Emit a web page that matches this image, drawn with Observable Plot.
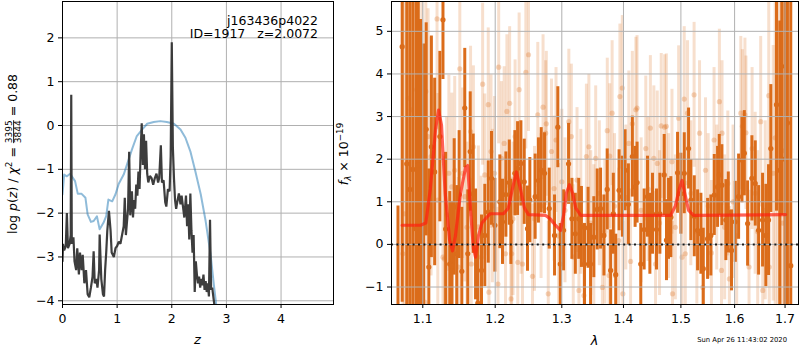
<!DOCTYPE html>
<html><head><meta charset="utf-8">
<script src="https://cdn.jsdelivr.net/npm/d3@7"></script>
<script src="https://cdn.jsdelivr.net/npm/@observablehq/plot@0.6"></script>
<style>
body{margin:0;background:#fff;font-family:"DejaVu Sans",sans-serif}
#wrap{position:relative;width:800px;height:350px;overflow:hidden}
#wrap svg{position:absolute;top:0}
</style></head><body><div id="wrap"></div>
<script>
// ---------- Left panel data: log p(z) ----------
const zTicks = [0, 1, 2, 3, 4];
const pzTicks = [-4, -3, -2, -1, 0, 1, 2];
const bluePz = [[0,-1.57],[0.03,-1.12],[0.08,-1.16],[0.14,-1.10],[0.23,-1.27],[0.28,-1.56],[0.35,-1.56],[0.42,-1.65],[0.46,-2.03],[0.52,-2.20],[0.57,-2.18],[0.63,-2.07],[0.68,-2.37],[0.75,-2.22],[0.80,-2.07],[0.84,-1.69],[0.91,-1.73],[0.97,-1.57],[1.03,-1.33],[1.12,-1.12],[1.21,-0.78],[1.27,-0.55],[1.36,-0.24],[1.46,-0.09],[1.55,0.04],[1.67,0.08],[1.79,0.10],[1.91,0.08],[2.04,0.04],[2.16,-0.09],[2.25,-0.28],[2.34,-0.59],[2.43,-1.04],[2.53,-1.57],[2.62,-2.18],[2.71,-2.94],[2.77,-3.63],[2.82,-4.16]];
const darkPz = [[0,-3.1],[0.01,-2.7],[0.03,-2.85],[0.06,-2.75],[0.08,-2.0],[0.10,-2.8],[0.13,-2.7],[0.15,-2.5],[0.16,0.7],[0.17,-2.7],[0.20,-2.55],[0.22,-3.1],[0.25,-3.3],[0.27,-2.8],[0.30,-3.4],[0.32,-2.9],[0.35,-3.3],[0.37,-2.95],[0.40,-3.6],[0.43,-3.3],[0.46,-3.85],[0.49,-3.92],[0.52,-3.7],[0.55,-3.45],[0.57,-2.87],[0.59,-3.6],[0.62,-3.5],[0.64,-3.7],[0.67,-3.3],[0.68,-2.49],[0.71,-3.5],[0.74,-3.85],[0.76,-3.9],[0.78,-3.3],[0.80,-2.9],[0.82,-2.4],[0.85,-1.95],[0.88,-2.4],[0.90,-2.9],[0.94,-3.0],[0.97,-2.8],[1.00,-2.75],[1.03,-2.65],[1.06,-2.7],[1.09,-2.5],[1.12,-2.3],[1.14,-1.65],[1.16,-2.5],[1.18,-2.2],[1.20,-1.9],[1.22,-0.6],[1.24,-2.05],[1.27,-1.5],[1.29,-2.1],[1.31,-1.7],[1.33,-1.9],[1.35,-1.35],[1.37,-1.6],[1.39,-1.05],[1.41,-1.45],[1.43,-0.6],[1.45,0.05],[1.47,-0.9],[1.49,-0.2],[1.51,-1.0],[1.53,-0.35],[1.55,-1.1],[1.57,-1.3],[1.60,-1.15],[1.63,-1.2],[1.66,-1.35],[1.69,-1.2],[1.72,-1.1],[1.75,-1.3],[1.77,-1.2],[1.80,-0.45],[1.82,-1.3],[1.85,-1.25],[1.88,-1.75],[1.90,-1.85],[1.93,-1.45],[1.96,-1.5],[1.98,-0.7],[2.00,1.9],[2.02,-0.5],[2.04,-1.2],[2.06,-1.7],[2.08,-1.9],[2.10,-1.75],[2.13,-1.55],[2.16,-1.8],[2.18,-1.6],[2.20,-1.8],[2.23,-2.1],[2.26,-1.6],[2.28,-2.3],[2.30,-1.8],[2.32,-2.6],[2.34,-1.55],[2.36,-2.4],[2.38,-2.9],[2.40,-2.5],[2.42,-3.8],[2.44,-3.1],[2.46,-3.4],[2.48,-3.6],[2.50,-3.45],[2.52,-3.7],[2.54,-3.5],[2.56,-3.65],[2.58,-3.4],[2.60,-3.75],[2.62,-3.55],[2.64,-3.8],[2.66,-3.6],[2.68,-3.9],[2.70,-2.15],[2.72,-3.75],[2.74,-3.7],[2.76,-3.9],[2.78,-4.1],[2.80,-4.3]];

// ---------- Right panel data: spectrum [lambda, flux, err] ----------
const lamTicks = [1.1, 1.2, 1.3, 1.4, 1.5, 1.6, 1.7];
const fluxTicks = [-1, 0, 1, 2, 3, 4, 5];
const specLight = [[1.074,-0.22,6],[1.076,0.72,6],[1.081,3.43,5],[1.085,3.16,5],[1.092,3.63,4.5],[1.0947,4.27,4],[1.099,2.92,3.5],[1.103,-1.36,3.2],[1.104,3.59,3],[1.107,2.53,3],[1.111,2.06,2.8],[1.119,5.29,2.6],[1.120,1.04,2.5],[1.127,-0.30,2.4],[1.129,-0.34,2.4],[1.132,0.7,2.3],[1.135,1.67,2.3],[1.139,1.35,2.2],[1.143,1.74,2.2],[1.148,-0.53,2.1],[1.150,4.12,2.1],[1.154,1.67,2.0],[1.157,1.12,2.0],[1.160,0.4,2.0],[1.165,2.65,2.0],[1.166,-0.46,2.0],[1.169,2.29,1.9],[1.176,0.41,1.9],[1.180,-0.3,1.9],[1.182,3.76,1.9],[1.185,1.63,1.9],[1.190,3.28,1.8],[1.191,-1.12,1.8],[1.194,2.18,1.8],[1.196,0.9,1.8],[1.199,1.67,1.8],[1.204,-0.93,1.8],[1.205,4.16,1.8],[1.209,2.02,1.8],[1.213,2.37,1.8],[1.215,-0.22,1.8],[1.217,3.12,1.8],[1.221,3.31,1.8],[1.223,-1.28,1.8],[1.224,-0.22,1.8],[1.226,0.6,1.8],[1.229,2.53,1.8],[1.233,-0.42,1.8],[1.235,3.63,1.8],[1.238,1.1,1.8],[1.240,-0.46,1.8],[1.245,4.04,1.8],[1.249,4.45,1.8],[1.255,-0.75,1.7],[1.258,0.6,1.7],[1.263,3.04,1.7],[1.268,0.9,1.7],[1.271,3.22,1.7],[1.275,2.61,1.7],[1.276,2.83,1.7],[1.279,-1.16,1.7],[1.284,2.18,1.7],[1.288,1.31,1.7],[1.291,2.45,1.7],[1.295,0.2,1.7],[1.300,1.47,1.7],[1.305,0.8,1.7],[1.311,2.88,1.7],[1.315,2.53,1.7],[1.318,-0.3,1.7],[1.324,1.51,1.7],[1.327,-1.08,1.7],[1.330,1.0,1.7],[1.335,-1.20,1.7],[1.339,2.06,1.7],[1.343,2.29,1.7],[1.346,0.5,1.7],[1.351,0.17,1.7],[1.354,2.02,1.7],[1.360,1.2,1.7],[1.365,-1.01,1.7],[1.369,0.3,1.7],[1.373,2.67,1.7],[1.376,-0.73,1.7],[1.377,2.07,1.7],[1.381,3.08,1.7],[1.385,0.9,1.7],[1.392,0.09,1.7],[1.394,3.47,1.7],[1.398,3.67,1.7],[1.399,-1.16,1.7],[1.404,1.1,1.7],[1.409,2.37,1.7],[1.412,-0.4,1.7],[1.415,2.83,1.7],[1.421,3.16,1.7],[1.423,3.20,1.7],[1.430,0.8,1.7],[1.438,2.25,1.7],[1.442,1.3,1.7],[1.446,2.73,1.7],[1.452,2.02,1.7],[1.455,-0.46,1.7],[1.458,1.90,1.7],[1.462,0.5,1.7],[1.465,2.78,1.7],[1.471,2.75,1.7],[1.474,2.77,1.7],[1.478,0.9,1.7],[1.484,1.94,1.7],[1.485,-1.16,1.7],[1.490,0.4,1.7],[1.496,2.96,1.7],[1.502,-0.30,1.7],[1.506,3.41,1.7],[1.508,-0.22,1.7],[1.512,3.08,1.7],[1.518,1.2,1.7],[1.524,3.51,1.7],[1.529,0.3,1.7],[1.534,2.61,1.7],[1.540,-1.01,1.7],[1.545,1.74,1.7],[1.550,0.9,1.7],[1.556,-0.2,1.7],[1.561,2.45,1.7],[1.566,1.1,1.7],[1.571,3.35,1.7],[1.575,-0.61,1.7],[1.576,2.61,1.7],[1.581,0.4,1.7],[1.587,1.43,1.7],[1.590,-0.81,1.7],[1.597,1.0,1.8],[1.604,0.2,1.8],[1.612,3.08,1.8],[1.615,2.77,1.8],[1.620,3.04,1.8],[1.622,2.62,1.8],[1.628,-0.53,1.8],[1.634,2.25,1.9],[1.640,1.2,1.9],[1.645,0.3,1.9],[1.651,2.88,2.0],[1.655,-1.08,2.0],[1.660,0.8,2.1],[1.667,3.49,2.3],[1.668,-0.53,2.3],[1.676,1.67,3],[1.680,2.5,5],[1.685,1.0,6],[1.690,3.0,6],[1.695,0.5,6],[1.700,2.2,6]];
const specDark = [[1.0677,-2.6,3.5],[1.0731,4.64,6],[1.0790,1.89,6],[1.0830,1.29,6],[1.0870,1.76,5.5],[1.0910,0.37,5.5],[1.0940,1.86,5.2],[1.0970,0.78,4.5],[1.1010,1.2,3.5],[1.1045,2.70,2.5],[1.1080,-0.53,2.3],[1.1114,2.29,2.6],[1.1158,1.70,2.2],[1.1228,2.53,2.0],[1.1270,5.27,1.4],[1.1306,0.36,1.8],[1.1362,-0.46,1.7],[1.1393,-0.50,1.5],[1.1423,0.88,1.6],[1.1458,-0.22,1.6],[1.1491,1.17,1.5],[1.1528,-0.63,1.5],[1.1569,3.20,1.4],[1.1611,-0.22,1.5],[1.1645,2.18,1.4],[1.1687,1.19,1.4],[1.1720,0.00,1.3],[1.1752,-1.38,1.4],[1.1804,-0.61,1.3],[1.1851,0.21,1.2],[1.1900,0.76,1.2],[1.1947,1.55,1.1],[1.1995,0.45,1.1],[1.2067,1.00,1.1],[1.2106,0.53,1.0],[1.2155,1.17,1.0],[1.2205,1.45,1.0],[1.2228,0.53,1.0],[1.2287,1.67,1.0],[1.2327,1.78,1.1],[1.2375,1.90,1.0],[1.2426,1.47,1.0],[1.2475,0.37,1.0],[1.2510,1.04,1.0],[1.2590,1.12,1.0],[1.2640,1.5,1.0],[1.2682,1.74,1.0],[1.2733,1.67,0.95],[1.2805,0.84,0.95],[1.2887,0.21,0.95],[1.2938,2.75,0.95],[1.2976,-0.46,0.95],[1.3027,0.33,0.95],[1.3106,1.89,0.95],[1.3159,0.60,0.95],[1.3213,0.25,0.95],[1.3267,0.60,0.95],[1.3310,0.41,0.95],[1.3359,-0.46,0.95],[1.3417,0.39,0.95],[1.3457,-0.46,0.95],[1.3510,0.17,0.95],[1.3565,0.82,0.95],[1.3620,0.84,0.95],[1.3675,0.21,0.95],[1.3729,1.29,0.95],[1.3786,-0.61,0.95],[1.3830,0.72,0.95],[1.3870,-0.71,0.95],[1.3926,1.27,0.95],[1.3981,1.12,0.95],[1.4027,1.74,0.95],[1.4083,0.94,0.95],[1.4150,2.06,0.95],[1.4197,1.35,0.95],[1.4231,1.45,0.95],[1.4294,-0.46,0.95],[1.4352,0.35,0.95],[1.4410,1.12,0.95],[1.4451,0.25,0.95],[1.4497,0.72,0.95],[1.4567,0.35,0.95],[1.4626,0.72,0.95],[1.4702,1.63,0.95],[1.4743,0.10,0.95],[1.4779,0.60,0.95],[1.4820,0.64,0.95],[1.4940,1.68,0.95],[1.5000,1.19,0.95],[1.5061,1.67,0.95],[1.5139,2.25,0.95],[1.5181,1.04,0.95],[1.5243,0.66,0.95],[1.5304,0.33,0.95],[1.5365,0.25,0.95],[1.5409,-0.57,0.95],[1.5489,0.13,0.95],[1.5550,0.21,0.95],[1.5614,1.16,0.95],[1.5676,1.35,0.95],[1.5708,1.63,0.95],[1.5757,1.39,0.95],[1.5833,0.57,0.95],[1.5879,0.75,0.95],[1.5941,-0.14,0.95],[1.6013,0.53,0.95],[1.6077,1.12,1.0],[1.6141,1.98,1.0],[1.6188,2.14,1.0],[1.6252,0.49,1.0],[1.6336,1.55,1.0],[1.6402,1.43,1.0],[1.6468,0.33,1.05],[1.6547,0.57,1.1],[1.6613,0.21,1.2],[1.6666,0.57,1.3],[1.6712,2.25,1.5],[1.6826,3.28,2.5],[1.6893,1.74,3.5],[1.6933,4.18,3.5],[1.7000,2.0,6],[1.7049,2.85,6],[1.7117,-0.50,7]];
const modelLine = [[1.073,0.45],[1.097,0.45],[1.104,0.5],[1.110,1.3],[1.117,2.7],[1.121,3.15],[1.125,2.8],[1.130,1.2],[1.136,0.1],[1.140,-0.15],[1.144,0.2],[1.151,1.2],[1.158,1.8],[1.161,1.85],[1.165,0.8],[1.169,-0.1],[1.172,-0.3],[1.176,0.2],[1.181,0.5],[1.187,0.62],[1.193,0.72],[1.212,0.72],[1.219,0.85],[1.225,1.3],[1.231,1.7],[1.237,1.3],[1.243,0.85],[1.249,0.7],[1.275,0.68],[1.282,0.6],[1.290,0.45],[1.298,0.33],[1.303,0.7],[1.307,1.2],[1.312,1.4],[1.317,1.2],[1.322,0.85],[1.330,0.68],[1.464,0.68],[1.4815,0.68],[1.490,0.9],[1.497,1.3],[1.502,1.5],[1.507,1.2],[1.514,0.8],[1.523,0.68],[1.701,0.7]];

// ---------- Text ----------
const objName = "j163436p4022";
const objInfo = "ID=1917   z=2.0072";
const chiNum = "3395", chiDen = "3844", chiVal = "0.88";
const stamp = "Sun Apr 26 11:43:02 2020";

const FONT = "DejaVu Sans";
const GRID = "#b0b0b0";
const ORANGE = "#db6c1a";
const RIGHT_LEFT = 320; // css left of the right svg
const wrap = document.getElementById("wrap");

// ---------- Left plot ----------
const left = Plot.plot({
  width: 345, height: 350,
  marginLeft: 62, marginRight: 12, marginTop: 1, marginBottom: 46,
  style: {fontFamily: FONT, fontSize: "12.5px", color: "black", background: "transparent"},
  x: {domain: [0, 4.96], axis: null},
  y: {domain: [-4.085, 2.83], axis: null},
  marks: [
    Plot.gridX(zTicks, {stroke: GRID, strokeOpacity: 1, strokeWidth: 1}),
    Plot.gridY(pzTicks, {stroke: GRID, strokeOpacity: 1, strokeWidth: 1}),
    Plot.line(bluePz, {x: d => d[0], y: d => d[1], stroke: "#1f77b4", strokeOpacity: 0.5, strokeWidth: 2, clip: true}),
    Plot.line(darkPz, {x: d => d[0], y: d => d[1], stroke: "#333333", strokeOpacity: 0.95, strokeWidth: 2.2, strokeLinejoin: "miter", clip: true}),
    Plot.axisX(zTicks, {tickSize: 4, tickPadding: 5.5, fontSize: 12.5, label: null, tickFormat: d => String(d)}),
    Plot.axisY(pzTicks, {tickSize: 4, tickPadding: 4, fontSize: 12.5, label: null}),
    Plot.frame({stroke: "black", strokeWidth: 1})
  ]
});
left.style.left = "0px";
wrap.appendChild(left);

// ---------- Right plot ----------
const right = Plot.plot({
  width: 800 - RIGHT_LEFT, height: 350,
  marginLeft: 391 - RIGHT_LEFT, marginRight: 2, marginTop: 1, marginBottom: 46,
  style: {fontFamily: FONT, fontSize: "12.5px", color: "black", background: "transparent"},
  x: {type: "log", domain: [1.0594, 1.7277], axis: null},
  y: {domain: [-1.41, 5.70], axis: null},
  marks: [
    Plot.ruleX(specLight, {x: d => d[0], y1: d => d[1] - d[2], y2: d => d[1] + d[2], stroke: ORANGE, strokeOpacity: 0.22, strokeWidth: 3, clip: true}),
    Plot.dot(specLight, {x: d => d[0], y: d => d[1], r: 2.6, fill: ORANGE, fillOpacity: 0.28, stroke: "none", clip: true}),
    Plot.ruleX(specDark, {x: d => d[0], y1: d => d[1] - d[2], y2: d => d[1] + d[2], stroke: ORANGE, strokeWidth: 3, clip: true}),
    Plot.dot(specDark, {x: d => d[0], y: d => d[1], r: 2.6, fill: ORANGE, stroke: "none", clip: true}),
    Plot.gridX(lamTicks, {stroke: GRID, strokeOpacity: 1, strokeWidth: 1}),
    Plot.gridY(fluxTicks, {stroke: GRID, strokeOpacity: 1, strokeWidth: 1}),
    Plot.line(modelLine, {x: d => d[0], y: d => d[1], stroke: "#ff2010", strokeOpacity: 0.7, strokeWidth: 3.2, clip: true}),
    Plot.ruleY([0], {stroke: "black", strokeOpacity: 0.85, strokeWidth: 2, strokeDasharray: "2,3.4"}),
    Plot.axisX(lamTicks, {tickSize: 4, tickPadding: 5.5, fontSize: 12.5, label: null, tickFormat: d => d.toFixed(1)}),
    Plot.axisY(fluxTicks, {tickSize: 4, tickPadding: 4, fontSize: 12.5, label: null}),
    Plot.frame({stroke: "black", strokeWidth: 1})
  ]
});
right.style.left = RIGHT_LEFT + "px";
wrap.appendChild(right);

// ---------- Labels (real text) ----------
const L = d3.select(left), R = d3.select(right);
function txt(sel, x, y, s, opts = {}) {
  return sel.append("text").attr("x", x).attr("y", y).attr("font-family", FONT)
    .attr("font-size", opts.size || 12.5).attr("text-anchor", opts.anchor || "middle")
    .attr("font-style", opts.italic ? "italic" : null).attr("fill", "black")
    .style("white-space", "pre").text(s);
}
txt(L, 318, 24.5, objName, {anchor: "end"});
txt(L, 318, 38.3, objInfo, {anchor: "end"});
txt(L, 197.5, 344, "z", {italic: true, size: 13});
txt(R, 594.5 - RIGHT_LEFT, 345, "λ", {italic: true, size: 13});
txt(R, 787 - RIGHT_LEFT, 342, stamp, {anchor: "end", size: 6.8});

// rotated labels: one <text> each, pieces flow as tspans, centred by text-anchor
function rotLabel(sel, bx, cy) {
  return sel.append("text").attr("transform", `translate(${bx},${cy}) rotate(-90)`)
    .attr("text-anchor", "middle").attr("font-family", FONT).attr("font-size", 12.5)
    .attr("fill", "black").style("white-space", "pre");
}
{
  const t = rotLabel(L, 17, 154);
  t.append("tspan").text("log ");
  t.append("tspan").attr("font-style", "italic").text("p");
  t.append("tspan").text("(");
  t.append("tspan").attr("font-style", "italic").text("z");
  t.append("tspan").text(") / ");
  t.append("tspan").attr("font-style", "italic").text("χ");
  t.append("tspan").attr("font-size", 8.8).attr("dy", -5).text("2");
  t.append("tspan").attr("dy", 5).text(" = ");
  // fraction: numerator (underlined = fraction bar), then denominator shifted back under it
  const numW = chiNum.length * 0.636 * 9; // DejaVu Sans digit advance
  t.append("tspan").attr("font-size", 9).attr("dy", -4.8).attr("text-decoration", "underline")
    .style("text-decoration", "underline").text(chiNum);
  t.append("tspan").attr("font-size", 9).attr("dx", -numW).attr("dy", 9.2).text(chiDen);
  t.append("tspan").attr("dy", -4.4).text(" = " + chiVal);
}
{
  const t = rotLabel(R, 348 - RIGHT_LEFT, 154);
  t.append("tspan").attr("font-style", "italic").text("f");
  t.append("tspan").attr("font-style", "italic").attr("font-size", 8.8).attr("dy", 3).text("λ");
  t.append("tspan").attr("dy", -3).text(" × 10");
  t.append("tspan").attr("font-size", 8.8).attr("dy", -5.5).text("−19");
}
</script></body></html>
